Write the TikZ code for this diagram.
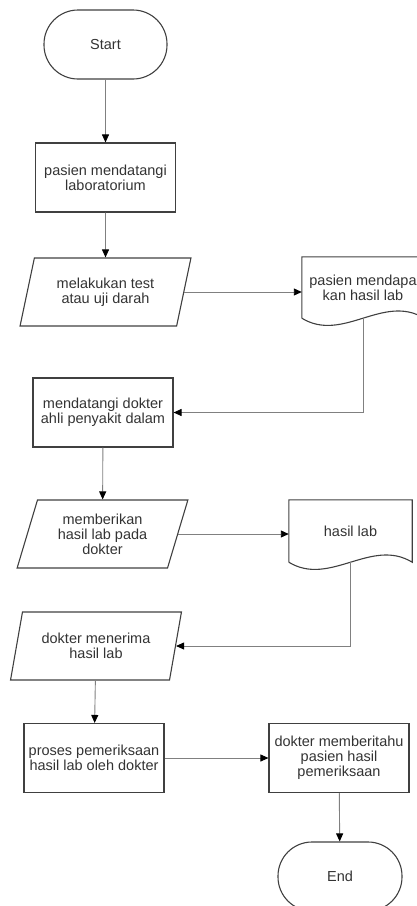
\documentclass[tikz,border=0pt]{standalone}
\usepackage{fontspec}
\setmainfont{Liberation Sans}
\usetikzlibrary{shapes.geometric,arrows.meta}

\begin{document}
\begin{tikzpicture}[x=1pt, y=-1pt,
    font=\fontsize{14.5}{15}\selectfont, text=black!80,
    terminal/.style={rectangle, draw=black!75, line width=1.1pt, rounded corners=34pt, minimum width=123pt, minimum height=69pt, inner sep=0pt},
    process/.style={rectangle, draw=black!75, line width=1.1pt, minimum width=140pt, minimum height=69pt, inner sep=0pt, align=center},
    io/.style={trapezium, trapezium left angle=71, trapezium right angle=109, trapezium stretches=true, draw=black!75, line width=1.1pt, minimum width=171pt, minimum height=68pt, inner sep=0pt, align=center},
    docbox/.style={rectangle, minimum width=122pt, minimum height=61pt, inner sep=0pt, align=center},
    outline/.style={draw=black!75, line width=1.1pt},
    flow/.style={draw=black!50, line width=0.9pt, -{Triangle[length=8pt, width=7pt, black]}}
]
\useasboundingbox (0,0) rectangle (417,906);

% Nodes
\node[terminal] (start) at (105.5,44.5) {Start};
\node[process] (datang) at (105.5,177.5) {pasien mendatangi\\laboratorium};
\node[io] (test) at (105.5,292) {melakukan test\\atau uji darah};
\node[docbox] (hasil1) at (363,287.5) {pasien mendapa\\kan hasil lab};
\node[process] (dokter) at (103,412.5) {mendatangi dokter\\ahli penyakit dalam};
\node[io] (beri) at (102.5,534) {memberikan\\hasil lab pada\\dokter};
\node[docbox, minimum width=123pt, minimum height=62pt] (hasil2) at (350.5,531) {hasil lab};
\node[io] (terima) at (96,646) {dokter menerima\\hasil lab};
\node[process] (periksa) at (94,758) {proses pemeriksaan\\hasil lab oleh dokter};
\node[process] (beritahu) at (339,758) {dokter memberitahu\\pasien hasil\\pemeriksaan};
\node[terminal, minimum width=124pt] (end) at (340,876.5) {End};

% Document outlines
\foreach \d in {hasil1,hasil2}
  \draw[outline] (\d.south west) |- (\d.north east) -- (\d.south east)
    .. controls +(-41,-25) and +(41,25) .. (\d.south west);

% Edges
\draw[flow] (start) -- (datang);
\draw[flow] (datang) -- (test);
\draw[flow] (test.east) -- (test.east -| hasil1.west);
\draw[flow] (hasil1.south) |- (dokter.east);
\draw[flow] (dokter) -- (beri);
\draw[flow] (beri.east) -- (beri.east -| hasil2.west);
\draw[flow] (hasil2.south) |- (terima.east);
\draw[flow] (terima) -- (periksa);
\draw[flow] (periksa) -- (beritahu);
\draw[flow] (beritahu) -- (end);

\end{tikzpicture}
\end{document}
